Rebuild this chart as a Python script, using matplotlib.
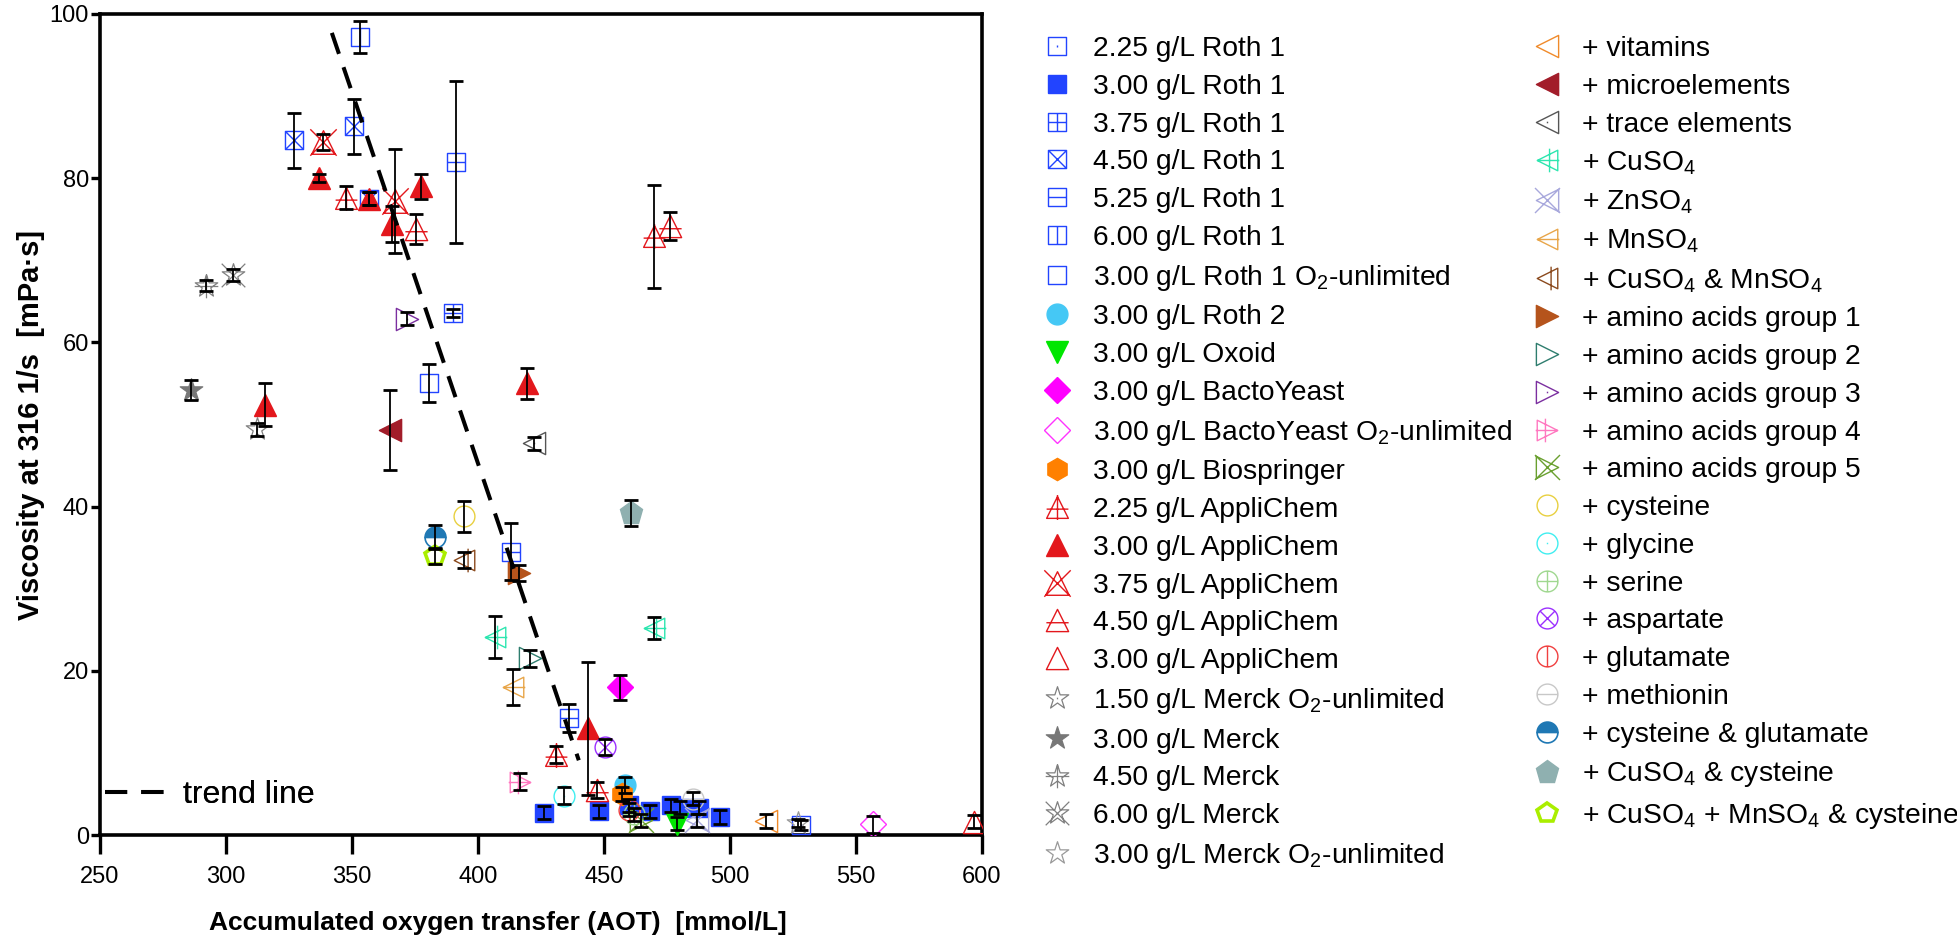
import numpy as np
import matplotlib
matplotlib.use('Agg')
import matplotlib.pyplot as plt
from matplotlib.path import Path

plt.rcParams['font.family'] = ['Liberation Sans', 'DejaVu Sans']
plt.rcParams['mathtext.fontset'] = 'custom'
plt.rcParams['mathtext.rm'] = 'Liberation Sans'
plt.rcParams['mathtext.default'] = 'regular'

# ---------------- data: (AOT [mmol/L], viscosity [mPa s], error) ----------------
roth1_225 = [(528.0, 1.2, 0.6)]
roth1_300 = [(426.0, 2.7, 0.8), (448.1, 2.9, 0.8), (459.8, 3.6, 0.8), (468.2, 2.9, 0.8),
             (476.4, 3.6, 0.8), (480.3, 3.3, 0.8), (487.6, 3.3, 0.8), (496.0, 2.2, 0.8)]
roth1_375 = [(390.0, 63.6, 0.5)]
roth1_450 = [(326.8, 84.6, 3.4), (350.6, 86.3, 3.4), (356.6, 77.5, 0.8)]
roth1_525 = [(391.4, 82.0, 9.9), (413.1, 34.5, 3.5), (436.0, 14.2, 1.7)]
roth1_600 = [(353.3, 97.2, 2.0)]
roth1_o2 = [(380.4, 55.1, 2.3)]
roth2_300 = [(458.5, 6.1, 1.0)]
oxoid_300 = [(479.0, 1.4, 0.8)]
bacto_300 = [(456.5, 18.0, 1.5)]
bacto_o2 = [(556.8, 1.3, 1.0)]
biospringer_300 = [(457.2, 5.0, 0.8)]
appli_225 = [(347.7, 77.6, 1.4), (469.7, 72.9, 6.3), (431.1, 9.8, 1.0)]
appli_300 = [(337.1, 80.0, 0.5), (356.6, 77.5, 0.8), (365.9, 74.4, 2.2), (377.3, 79.0, 1.5),
             (315.5, 52.4, 2.6), (419.5, 55.0, 1.9), (443.6, 13.0, 8.1)]
appli_375 = [(338.4, 84.4, 1.0), (367.2, 77.2, 6.3)]
appli_450 = [(375.5, 73.8, 1.8), (476.1, 74.2, 1.7), (447.3, 5.5, 1.0)]
appli_300_open = [(596.8, 1.6, 0.8)]
merck_150_o2 = [(312.2, 49.4, 0.8)]
merck_300 = [(286.0, 54.2, 1.2)]
merck_450 = [(292.1, 66.9, 0.7)]
merck_600 = [(302.7, 68.2, 0.7)]
merck_300_o2 = [(527.0, 1.5, 0.5)]
vitamins = [(514.1, 1.7, 0.8)]
microelements = [(365.2, 49.3, 4.9)]
trace_elements = [(422.1, 47.7, 0.8)]
cuso4 = [(406.9, 24.1, 2.6), (469.8, 25.2, 1.3)]
znso4 = [(486.9, 1.8, 0.8)]
mnso4 = [(413.9, 18.0, 2.2)]
cuso4_mnso4 = [(394.3, 33.5, 1.0)]
aa_group1 = [(416.1, 31.9, 1.0)]
aa_group2 = [(420.8, 21.5, 1.0)]
aa_group3 = [(371.8, 62.9, 0.8)]
aa_group4 = [(416.8, 6.5, 1.0)]
aa_group5 = [(464.5, 1.8, 0.8)]
cysteine = [(394.6, 38.8, 1.9)]
glycine = [(434.0, 4.8, 1.0)]
serine = [(462.0, 2.5, 0.8)]
aspartate = [(450.5, 10.7, 1.0)]
glutamate = [(459.8, 3.1, 0.8)]
methionin = [(485.3, 4.4, 0.8)]
cys_glu = [(383.0, 36.3, 1.5)]
cuso4_cys = [(460.7, 39.2, 1.6)]
cuso4_mnso4_cys = [(383.0, 34.0, 1.0)]

trend_x = [342.0, 440.0]
trend_y = [97.7, 9.1]

x_ticks = [250, 300, 350, 400, 450, 500, 550, 600]
y_ticks = [0, 20, 40, 60, 80, 100]

# ---------------- marker shapes ----------------
M, L, C = Path.MOVETO, Path.LINETO, Path.CLOSEPOLY
SQ = [(-1, -1), (1, -1), (1, 1), (-1, 1)]
TU = [(0, 1), (-1, -1), (1, -1)]
TL = [(-1, 0), (1, 1), (1, -1)]
TR = [(1, 0), (-1, 1), (-1, -1)]
ang_o = np.deg2rad(90 + 72 * np.arange(5))
ang_i = ang_o + np.deg2rad(36)
STAR = []
for a, b in zip(ang_o, ang_i):
    STAR.append((np.cos(a), np.sin(a)))
    STAR.append((0.382 * np.cos(b), 0.382 * np.sin(b)))
DOT = [(0, -0.07), (0, 0.07)]
PLUS = [[(-1, 0), (1, 0)], [(0, -1), (0, 1)]]
XX = [[(-1, -1), (1, 1)], [(-1, 1), (1, -1)]]
XXL = [[(-1.12, -1.12), (1.12, 1.12)], [(-1.12, 1.12), (1.12, -1.12)]]
HL = [[(-1, 0), (1, 0)]]
VL = [[(0, -1), (0, 1)]]


def shape(outline, extra=()):
    verts = list(outline) + [outline[0]]
    codes = [M] + [L] * (len(outline) - 1) + [C]
    for seg in extra:
        verts += list(seg)
        codes += [M] + [L] * (len(seg) - 1)
    return Path(verts, codes)


def circ(extra=()):
    if not extra:
        return Path.unit_circle()
    verts, codes = [], []
    for seg in extra:
        verts += list(seg)
        codes += [M] + [L] * (len(seg) - 1)
    return Path.make_compound_path(Path.unit_circle(), Path(verts, codes))


r = 0.707
BLUE = '#2244ff'
RED = '#e3171c'
GRAY = '#808080'

series = [
    ('2.25 g/L Roth 1', roth1_225, dict(marker=shape(SQ, [DOT]), ms=13, mfc='none', mec=BLUE, mew=1)),
    ('3.00 g/L Roth 1', roth1_300, dict(marker='s', ms=13, mfc=BLUE, mec=BLUE, mew=1)),
    ('3.75 g/L Roth 1', roth1_375, dict(marker=shape(SQ, PLUS), ms=13, mfc='none', mec=BLUE, mew=1)),
    ('4.50 g/L Roth 1', roth1_450, dict(marker=shape(SQ, XX), ms=13, mfc='none', mec=BLUE, mew=1)),
    ('5.25 g/L Roth 1', roth1_525, dict(marker=shape(SQ, HL), ms=13, mfc='none', mec=BLUE, mew=1)),
    ('6.00 g/L Roth 1', roth1_600, dict(marker=shape(SQ, VL), ms=13, mfc='none', mec=BLUE, mew=1)),
    ('3.00 g/L Roth 1 O$_2$-unlimited', roth1_o2, dict(marker=shape(SQ), ms=13, mfc='none', mec=BLUE, mew=1)),
    ('3.00 g/L Roth 2', roth2_300, dict(marker='o', ms=15, mfc='#45c8f5', mec='#45c8f5', mew=1)),
    ('3.00 g/L Oxoid', oxoid_300, dict(marker='v', ms=16, mfc='#00e600', mec='#00e600', mew=1)),
    ('3.00 g/L BactoYeast', bacto_300, dict(marker='D', ms=13, mfc='#ff00ff', mec='#ff00ff', mew=1)),
    ('3.00 g/L BactoYeast O$_2$-unlimited', bacto_o2, dict(marker='D', ms=13, mfc='none', mec='#ff33ff', mew=1)),
    ('3.00 g/L Biospringer', biospringer_300, dict(marker='h', ms=16, mfc='#ff8000', mec='#ff8000', mew=1)),
    ('2.25 g/L AppliChem', appli_225, dict(marker=shape(TU, [[(0, 1.15), (0, -1.15)], [(-1, -0.15), (1, -0.15)]]), ms=18, mfc='none', mec=RED, mew=1)),
    ('3.00 g/L AppliChem', appli_300, dict(marker='^', ms=16, mfc=RED, mec=RED, mew=1)),
    ('3.75 g/L AppliChem', appli_375, dict(marker=shape(TU, XXL), ms=19, mfc='none', mec=RED, mew=1)),
    ('4.50 g/L AppliChem', appli_450, dict(marker=shape(TU, [[(-1, -0.2), (1, -0.2)]]), ms=16, mfc='none', mec=RED, mew=1)),
    ('3.00 g/L AppliChem', appli_300_open, dict(marker=shape(TU), ms=16, mfc='none', mec=RED, mew=1)),
    ('1.50 g/L Merck O$_2$-unlimited', merck_150_o2, dict(marker=shape(STAR, [DOT]), ms=17, mfc='none', mec=GRAY, mew=0.9)),
    ('3.00 g/L Merck', merck_300, dict(marker=shape(STAR), ms=17, mfc='#777777', mec='#777777', mew=0.9)),
    ('4.50 g/L Merck', merck_450, dict(marker=shape(STAR, PLUS), ms=17, mfc='none', mec=GRAY, mew=0.9)),
    ('6.00 g/L Merck', merck_600, dict(marker=shape(STAR, XX), ms=17, mfc='none', mec=GRAY, mew=0.9)),
    ('3.00 g/L Merck O$_2$-unlimited', merck_300_o2, dict(marker=shape(STAR), ms=17, mfc='none', mec='#999999', mew=0.9)),
    ('+ vitamins', vitamins, dict(marker=shape(TL), ms=16, mfc='none', mec='#f08a2a', mew=1)),
    ('+ microelements', microelements, dict(marker=shape(TL), ms=16, mfc='#a21d2a', mec='#a21d2a', mew=1)),
    ('+ trace elements', trace_elements, dict(marker=shape(TL, [DOT]), ms=16, mfc='none', mec='#555555', mew=1)),
    ('+ CuSO$_4$', cuso4, dict(marker=shape(TL, [[(-1, 0), (1.15, 0)], [(0.2, -1.15), (0.2, 1.15)]]), ms=17, mfc='none', mec='#2ee6b0', mew=1)),
    ('+ ZnSO$_4$', znso4, dict(marker=shape(TL, XXL), ms=18, mfc='none', mec='#a8a8dc', mew=1)),
    ('+ MnSO$_4$', mnso4, dict(marker=shape(TL, [[(-1, 0), (1.15, 0)]]), ms=17, mfc='none', mec='#e8a64a', mew=1)),
    ('+ CuSO$_4$ & MnSO$_4$', cuso4_mnso4, dict(marker=shape(TL, [[(0.35, -1.15), (0.35, 1.15)]]), ms=17, mfc='none', mec='#8b4a1e', mew=1)),
    ('+ amino acids group 1', aa_group1, dict(marker=shape(TR), ms=16, mfc='#b5541c', mec='#b5541c', mew=1)),
    ('+ amino acids group 2', aa_group2, dict(marker=shape(TR), ms=16, mfc='none', mec='#2e7d6e', mew=1)),
    ('+ amino acids group 3', aa_group3, dict(marker=shape(TR, [DOT]), ms=16, mfc='none', mec='#7b2fa0', mew=1)),
    ('+ amino acids group 4', aa_group4, dict(marker=shape(TR, [[(-1.15, 0), (1, 0)], [(-0.2, -1.15), (-0.2, 1.15)]]), ms=17, mfc='none', mec='#ff78c0', mew=1)),
    ('+ amino acids group 5', aa_group5, dict(marker=shape(TR, XXL), ms=18, mfc='none', mec='#6aa030', mew=1)),
    ('+ cysteine', cysteine, dict(marker=circ(), ms=15, mfc='none', mec='#e8d040', mew=1)),
    ('+ glycine', glycine, dict(marker=circ([DOT]), ms=15, mfc='none', mec='#40eef0', mew=1)),
    ('+ serine', serine, dict(marker=circ(PLUS), ms=15, mfc='none', mec='#a0d890', mew=1)),
    ('+ aspartate', aspartate, dict(marker=circ([[(-r, -r), (r, r)], [(-r, r), (r, -r)]]), ms=15, mfc='none', mec='#9b30ff', mew=1)),
    ('+ glutamate', glutamate, dict(marker=circ(VL), ms=15, mfc='none', mec='#f04040', mew=1)),
    ('+ methionin', methionin, dict(marker=circ(HL), ms=15, mfc='none', mec='#c8c8c8', mew=1)),
    ('+ cysteine & glutamate', cys_glu, dict(marker='o', ms=15, fillstyle='top', mfc='#1f78b4', mfcalt='white', mec='#1f78b4', mew=1.2)),
    ('+ CuSO$_4$ & cysteine', cuso4_cys, dict(marker='p', ms=17, mfc='#8fb0b0', mec='#8fb0b0', mew=1)),
    ('+ CuSO$_4$ + MnSO$_4$ & cysteine', cuso4_mnso4_cys, dict(marker='p', ms=15, mfc='none', mec='#aaee00', mew=2.6)),
]

fig = plt.figure(figsize=(19.58, 9.38), dpi=100)
ax = fig.add_axes([100 / 1958, 103 / 938, 882 / 1958, 821 / 938])

handles, labels = [], []
for lab, data, st in series:
    xs = [p[0] for p in data]
    ys = [p[1] for p in data]
    es = [p[2] for p in data]
    h, = ax.plot(xs, ys, ls='none', zorder=3, **st)
    ax.errorbar(xs, ys, yerr=es, fmt='none', ecolor='black', elinewidth=1.3,
                capsize=5, capthick=2, zorder=4)
    handles.append(h)
    labels.append(lab)

trend, = ax.plot(trend_x, trend_y, color='black', lw=2.9, dashes=(5.5, 3.5), zorder=5)

ax.set_xlim(250, 600)
ax.set_ylim(0, 100)
ax.set_xticks(x_ticks)
ax.set_yticks(y_ticks)
for sp in ax.spines.values():
    sp.set_linewidth(2.6)
ax.tick_params(axis='x', direction='out', length=14, width=2.4, labelsize=17, pad=8)
ax.tick_params(axis='y', direction='out', length=6.5, width=2.4, labelsize=17, pad=1.5)
ax.set_xlabel('Accumulated oxygen transfer (AOT)  [mmol/L]', fontsize=19, fontweight='bold')
ax.set_ylabel('Viscosity at 316 1/s  [mPa·s]', fontsize=21, fontweight='bold', labelpad=3)
ax.xaxis.set_label_coords(0.4515, -0.093)

leg1 = ax.legend([trend], ['trend line'], loc='lower left', bbox_to_anchor=(5 / 882, 25 / 821),
                 frameon=False, fontsize=23, handlelength=2.2, handletextpad=0.25,
                 borderpad=0, borderaxespad=0)
ax.add_artist(leg1)

fig.legend(handles, labels, ncol=2, loc='upper left', bbox_to_anchor=(1037 / 1958, 1 - 36 / 938),
           frameon=False, fontsize=20.3, handlelength=1.4, handletextpad=0.57,
           columnspacing=0.55, labelspacing=0.417, borderpad=0, borderaxespad=0)

fig.savefig('out.png', dpi=100)
